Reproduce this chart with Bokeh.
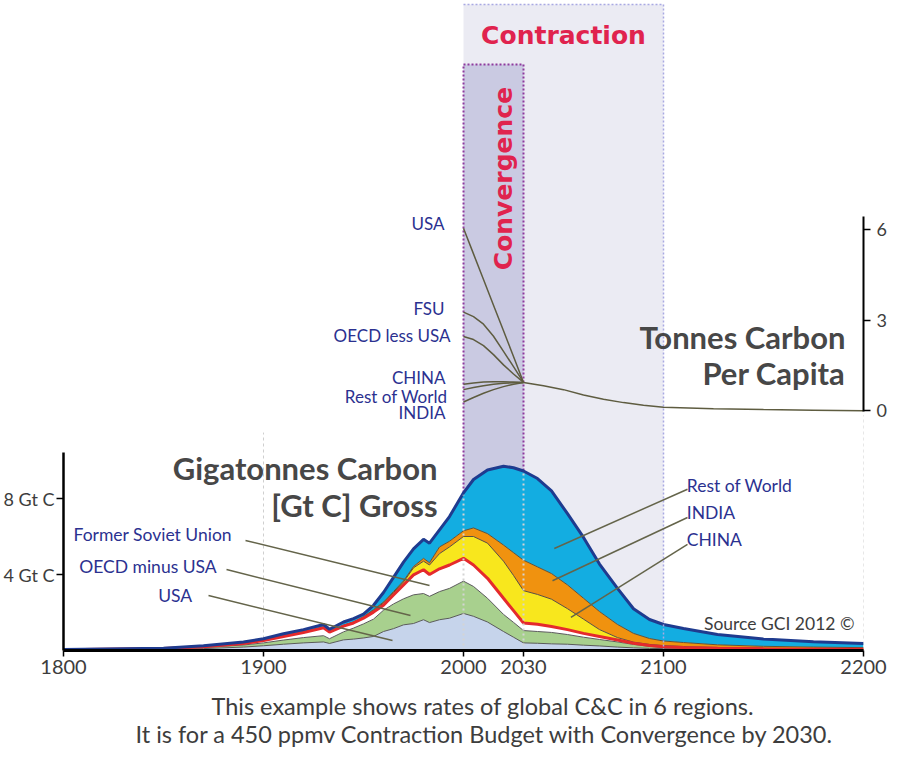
import numpy as np
from bokeh.plotting import figure
from bokeh.models import Range1d, LinearAxis, FixedTicker, ColumnDataSource, Title
from bokeh.core.properties import value
from bokeh.embed import file_html
from bokeh.resources import INLINE

# ---------------- data ----------------
years = [1800, 1850, 1870, 1890, 1900, 1910, 1920, 1930, 1933, 1940, 1945, 1950, 1955, 1960,
         1965, 1970, 1975, 1980, 1983, 1988, 1993, 2000, 2005, 2012, 2020, 2025, 2030, 2037,
         2044, 2052, 2060, 2068, 2077, 2085, 2093, 2100, 2110, 2127, 2150, 2175, 2200]
# stacked upper edge of each region (Gt C per year), bottom to top
top_usa = [.02, .05, .10, .18, .25, .33, .40, .45, .37, .56, .60, .66, .74, 1.00, 1.15, 1.35, 1.42,
           1.62, 1.47, 1.62, 1.70, 1.95, 1.80, 1.50, 1.00, .70, .40, .38, .35, .33, .28, .24, .18,
           .14, .11, .10, .08, .06, .04, .03, .02]
top_oecd = [.03, .08, .16, .29, .40, .55, .68, .78, .62, .98, 1.18, 1.40, 1.65, 2.12, 2.45, 2.72,
            2.93, 3.00, 2.85, 3.10, 3.27, 3.65, 3.37, 2.75, 1.90, 1.48, 1.05, 1.00, .95, .84, .70,
            .58, .45, .32, .22, .16, .13, .10, .07, .05, .04]
top_fsu = [.04, .10, .20, .37, .52, .74, .95, 1.20, .97, 1.28, 1.45, 1.70, 2.02, 2.38, 2.92, 3.45,
           3.98, 4.25, 4.00, 4.30, 4.50, 4.85, 4.50, 3.80, 2.75, 2.10, 1.45, 1.38, 1.26, 1.10, .90,
           .74, .55, .38, .26, .20, .16, .12, .09, .07, .06]
top_china = [.04, .10, .20, .38, .53, .75, .97, 1.22, .99, 1.31, 1.48, 1.75, 2.10, 2.50, 3.05, 3.60,
             4.35, 4.70, 4.50, 5.10, 5.45, 6.00, 6.00, 5.65, 4.70, 3.95, 3.15, 2.95, 2.70, 2.20,
             1.65, 1.10, .68, .44, .32, .26, .21, .16, .12, .10, .08]
top_india = [.04, .10, .20, .38, .54, .76, .98, 1.23, 1.00, 1.33, 1.50, 1.78, 2.15, 2.55, 3.10, 3.66,
             4.42, 4.85, 4.62, 5.45, 5.75, 6.30, 6.45, 6.15, 5.55, 5.15, 4.75, 4.40, 4.05, 3.45,
             2.75, 2.05, 1.37, .90, .63, .50, .42, .30, .22, .18, .15]
top_row = [.05, .12, .25, .45, .62, .88, 1.10, 1.37, 1.12, 1.50, 1.68, 1.92, 2.38, 3.05, 3.85, 4.65,
           5.35, 5.85, 5.65, 6.35, 7.05, 8.30, 9.00, 9.50, 9.70, 9.62, 9.45, 9.05, 8.40, 7.20, 5.95,
           4.55, 3.27, 2.20, 1.63, 1.37, 1.16, .84, .60, .46, .37]

# tonnes carbon per capita, convergence period and common tail
pc_conv_years = [2000, 2005, 2010, 2015, 2020, 2025, 2030]
pc_usa = [6.05, 5.20, 4.35, 3.50, 2.65, 1.80, 0.94]
pc_fsu = [3.27, 3.12, 2.87, 2.47, 1.97, 1.46, 0.94]
pc_oecd = [2.46, 2.36, 2.16, 1.86, 1.52, 1.22, 0.94]
pc_china = [0.88, 0.92, 0.95, 0.96, 0.96, 0.95, 0.94]
pc_row = [0.70, 0.77, 0.83, 0.88, 0.91, 0.93, 0.94]
pc_india = [0.29, 0.44, 0.58, 0.70, 0.80, 0.88, 0.94]
pc_tail_years = [2030, 2040, 2050, 2060, 2070, 2080, 2090, 2100, 2125, 2150, 2175, 2200]
pc_tail = [0.94, 0.83, 0.70, 0.52, 0.38, 0.27, 0.18, 0.12, 0.07, 0.04, 0.02, 0.0]

x_ticks = [1800, 1900, 2000, 2030, 2100, 2200]
gt_ticks = [4, 8]
gt_tick_labels = {4: "4 Gt C", 8: "8 Gt C"}
pc_ticks = [0, 3, 6]
convergence_period = [2000, 2030]
contraction_period = [2000, 2100]
guide_years = [1900, 2200]

caption = ["This example shows rates of global C&C in 6 regions.",
           "It is for a 450 ppmv Contraction Budget with Convergence by 2030."]

# ---------------- styling ----------------
FONT = "Lato"
NAVY = "#2b3190"
GREY_TXT = "#3d3d3d"
LEADER = "#64644a"

FRAME_H = 648
GT_END = FRAME_H / 19.0
PC_START, PC_END = -7.945, 13.53

p = figure(frame_width=800, frame_height=FRAME_H,
           x_range=Range1d(1800, 2200), y_range=Range1d(0, GT_END),
           x_axis_type=None, y_axis_type=None,
           output_backend="svg", toolbar_location=None,
           min_border_left=58, min_border_right=26, min_border_top=2, min_border_bottom=104,
           background_fill_color="white", border_fill_color="white", outline_line_color=None)
p.grid.visible = False
p.extra_y_ranges = {"pc": Range1d(PC_START, PC_END)}

# phase boxes
p.quad(left=[contraction_period[0]], right=[contraction_period[1]], bottom=[0], top=[34.0],
       fill_color="#ebebf3", line_color=None)
p.quad(left=[convergence_period[0]], right=[convergence_period[1]], bottom=[0], top=[30.84],
       fill_color="#cacae2", line_color="#8e3a9e", line_width=2, line_dash="2 2")
p.segment(x0=[contraction_period[1]], x1=[contraction_period[1]], y0=[0], y1=[34.0],
          line_color="#a9a9e2", line_width=1.5, line_dash="2 2")
p.segment(x0=[contraction_period[0]], x1=[contraction_period[1]], y0=[34.0], y1=[34.0],
          line_color="#a9a9e2", line_width=1.5, line_dash="2 2")

# guide lines
p.segment(x0=[guide_years[0]], x1=[guide_years[0]], y0=[0], y1=[11.47],
          line_color="#cfcfcf", line_width=1, line_dash="3 3")
p.segment(x0=[guide_years[1]], x1=[guide_years[1]], y0=[0], y1=[12.4],
          line_color="#cfcfcf", line_width=1, line_dash="3 3")

# stacked areas
src = ColumnDataSource(dict(x=years, zero=[0] * len(years), usa=top_usa, oecd=top_oecd,
                            fsu=top_fsu, china=top_china, india=top_india, row=top_row))
layers = [("zero", "usa", "#c6d4eb"), ("usa", "oecd", "#a8d08e"), ("oecd", "fsu", "#ffffff"),
          ("fsu", "china", "#f8e71d"), ("china", "india", "#f0920f"), ("india", "row", "#13ade1")]
for lo, hi, col in layers:
    p.varea(x="x", y1=lo, y2=hi, source=src, fill_color=col)
p.line(x="x", y="usa", source=src, line_color="#5a5a5a", line_width=1)
p.line(x="x", y="oecd", source=src, line_color="#5a5a5a", line_width=1)
p.line(x="x", y="china", source=src, line_color="#5a5040", line_width=1)
p.line(x="x", y="india", source=src, line_color="#6a5030", line_width=1)
p.line(x="x", y="fsu", source=src, line_color="#e52a2c", line_width=3)
p.line(x="x", y="row", source=src, line_color="#1f3b8f", line_width=3)

# dotted markers through the areas
for yr in convergence_period:
    p.segment(x0=[yr], x1=[yr], y0=[0], y1=[float(np.interp(yr, years, top_row)) - 0.1],
              line_color="#d4d4d4", line_width=2, line_dash="2 3")
p.segment(x0=[contraction_period[1]], x1=[contraction_period[1]], y0=[0],
          y1=[float(np.interp(contraction_period[1], years, top_row))],
          line_color="#a9a9e2", line_width=1.5, line_dash="2 2")

# per capita lines
for series in [pc_usa, pc_fsu, pc_oecd, pc_china, pc_row, pc_india]:
    p.line(x=pc_conv_years, y=series, y_range_name="pc", line_color="#5e5c40", line_width=1.5)
p.line(x=pc_tail_years, y=pc_tail, y_range_name="pc", line_color="#5e5c40", line_width=1.5)

# leader lines
leaders = dict(x0=[1891, 1881.5, 1872.5, 2112, 2112, 2112],
               y0=[5.79, 4.26, 2.89, 8.49, 7.0, 5.59],
               x1=[1983, 1973.5, 1964.5, 2045.4, 2044.5, 2053.7],
               y1=[3.42, 1.84, 0.53, 5.37, 3.67, 1.74])
p.segment(x0="x0", y0="y0", x1="x1", y1="y1", source=ColumnDataSource(leaders),
          line_color=LEADER, line_width=1.5)

# region labels (emissions)
p.text(x=[1805, 1807.85, 1847.35, 2111.65, 2111.65, 2111.65],
       y=[6.12, 4.42, 2.91, 8.67, 7.26, 5.86],
       text=["Former Soviet Union", "OECD minus USA", "USA", "Rest of World", "INDIA", "CHINA"],
       text_font=value(FONT), text_font_size="17.5px", text_color=NAVY,
       text_align="left", text_baseline="middle")
# region labels (per capita)
p.text(x=[1990.5, 1990.5, 1993.5, 1991, 1992, 1991],
       y=[6.22, 3.39, 2.50, 1.10, 0.47, -0.05],
       text=["USA", "FSU", "OECD less USA", "CHINA", "Rest of World", "INDIA"],
       y_range_name="pc",
       text_font=value(FONT), text_font_size="17px", text_color=NAVY,
       text_align="right", text_baseline="middle")

# headings
p.text(x=[1987, 1987], y=[9.58, 7.68], text=["Gigatonnes Carbon", "[Gt C] Gross"],
       text_font=value(FONT), text_font_size="31px", text_font_style="bold",
       text_color="#474747", text_align="right", text_baseline="middle")
p.text(x=[2191, 2191], y=[2.43, 1.24], text=["Tonnes Carbon", "Per Capita"], y_range_name="pc",
       text_font=value(FONT), text_font_size="31px", text_font_style="bold",
       text_color="#474747", text_align="right", text_baseline="middle")
p.text(x=[2050], y=[32.37], text=["Contraction"],
       text_font=value("DejaVu Sans"), text_font_size="25px", text_font_style="bold",
       text_color="#e0234e", text_align="center", text_baseline="middle")
p.text(x=[2020], y=[24.84], text=["Convergence"], angle=np.pi / 2,
       text_font=value("DejaVu Sans"), text_font_size="25px", text_font_style="bold",
       text_color="#e0234e", text_align="center", text_baseline="middle")
p.text(x=[2195.5], y=[1.42], text=["Source GCI 2012 \u00a9"],
       text_font=value(FONT), text_font_size="17.5px", text_color=GREY_TXT,
       text_align="right", text_baseline="middle")

# axes
xaxis = LinearAxis(ticker=FixedTicker(ticks=x_ticks), axis_line_width=3, axis_line_color="black",
                   major_tick_out=6, major_tick_in=0, minor_tick_out=0, minor_tick_in=0,
                   major_tick_line_width=1.5, major_label_standoff=3,
                   major_label_text_font=FONT, major_label_text_font_size="20px",
                   major_label_text_color=GREY_TXT)
p.add_layout(xaxis, "below")

yaxis = LinearAxis(ticker=FixedTicker(ticks=gt_ticks), major_label_overrides=gt_tick_labels,
                   bounds=(0, 10.4), axis_line_width=2.5, axis_line_color="black",
                   major_tick_out=7, major_tick_in=0, minor_tick_out=0, minor_tick_in=0,
                   major_tick_line_width=1.5, major_label_standoff=2,
                   major_label_text_font=FONT, major_label_text_font_size="18px",
                   major_label_text_color=GREY_TXT)
p.add_layout(yaxis, "left")

pcaxis = LinearAxis(y_range_name="pc", ticker=FixedTicker(ticks=pc_ticks), bounds=(-0.03, 6.44),
                    axis_line_width=2, axis_line_color="black",
                    major_tick_out=7, major_tick_in=0, minor_tick_out=0, minor_tick_in=0,
                    major_tick_line_width=1.5, major_label_standoff=6,
                    major_label_text_font=FONT, major_label_text_font_size="18px",
                    major_label_text_color=GREY_TXT)
p.add_layout(pcaxis, "right")

caption_offsets = [148, 72]
caption_standoffs = [26, -30]
for line, off, so in zip(caption, caption_offsets, caption_standoffs):
    p.add_layout(Title(text=line, align="left", offset=off, text_font=FONT,
                       text_font_size="23.5px", text_font_style="normal",
                       text_color=GREY_TXT, standoff=so), "below")

open("out.html", "w").write(file_html(p, INLINE))
